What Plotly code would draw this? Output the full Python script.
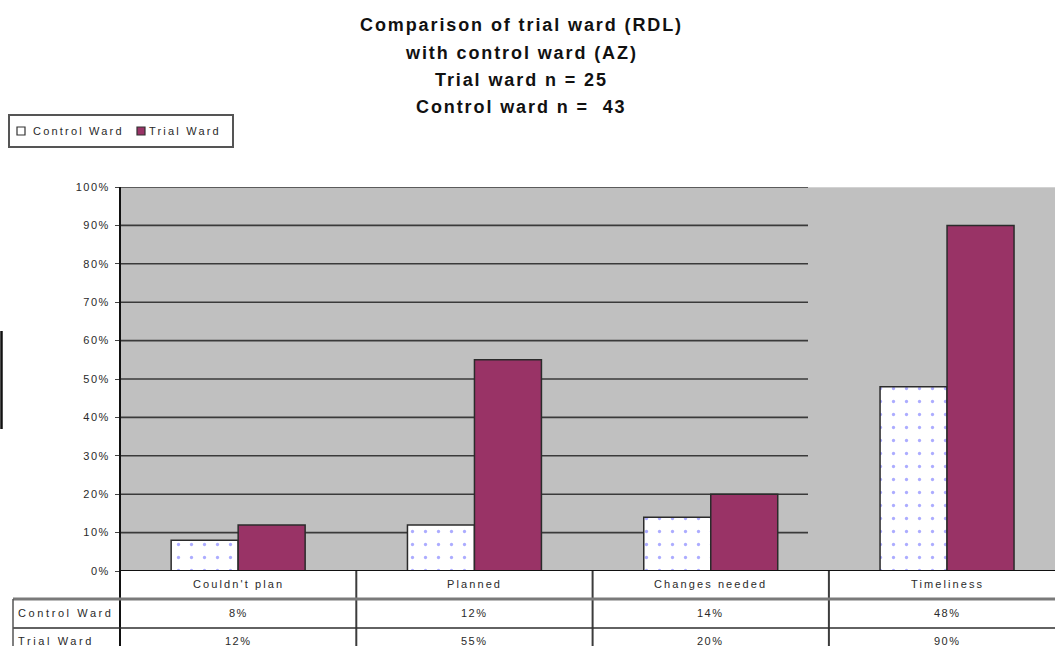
import plotly.graph_objects as go

# ---- data ----
categories = ["Couldn't plan", "Planned", "Changes needed", "Timeliness"]
control_ward = [8, 12, 14, 48]
trial_ward = [12, 55, 20, 90]
series_names = ["Control Ward", "Trial Ward"]
y_ticks = list(range(0, 101, 10))
title_lines = [
    "Comparison of trial ward (RDL)",
    "with control ward (AZ)",
    "Trial ward n = 25",
    "Control ward n =  43",
]

# ---- page geometry (pixels) ----
W, H = 1055, 646
L, T, B = 120, 187, 75
plot_w = W - L
plot_h = H - T - B
cat_px = 236.3                      # width of one category slot
x_lo = -0.5
x_hi = x_lo + plot_w / cat_px
grid_end = x_lo + (808 - L) / cat_px

TEXT = "#2a2a2a"
FONT = "Liberation Sans, Arial, sans-serif"


def px(x):
    return (x - L) / plot_w


def py(y):
    return (H - B - y) / plot_h


def spaced(s, sp):
    return f'<span style="letter-spacing:{sp}px">{s}</span>'


fig = go.Figure()
fig.add_trace(go.Bar(
    x=categories, y=control_ward, name=series_names[0],
    marker=dict(color="white", line=dict(color="#2b2b2b", width=1.5),
                pattern=dict(shape=".", fgcolor="#5a5aff", bgcolor="white",
                             size=13, solidity=0.05)),
    showlegend=False,
))
fig.add_trace(go.Bar(
    x=categories, y=trial_ward, name=series_names[1],
    marker=dict(color="#993366", line=dict(color="#2b2b2b", width=1.5)),
    showlegend=False,
))

shapes = []
# horizontal gridlines
for v in y_ticks[1:]:
    shapes.append(dict(type="line", xref="x", yref="y", x0=x_lo, x1=grid_end,
                       y0=v, y1=v, line=dict(color="#3a3a3a", width=1.6),
                       layer="below"))
# faint border beyond gridline area
shapes.append(dict(type="line", xref="x", yref="y", x0=grid_end, x1=x_hi,
                   y0=100, y1=100, line=dict(color="#d9d9d9", width=1.5),
                   layer="below"))
# category axis line (0%)
shapes.append(dict(type="line", xref="x", yref="y", x0=x_lo, x1=x_hi,
                   y0=0, y1=0, line=dict(color="#111", width=2)))
# value axis line, running down through the table
shapes.append(dict(type="line", xref="paper", yref="paper", x0=0, x1=0,
                   y0=py(187), y1=py(H), line=dict(color="#111", width=2)))

# ---- data table below the plot ----
for b in [0.5, 1.5, 2.5]:
    shapes.append(dict(type="line", xref="x", yref="paper", x0=b, x1=b,
                       y0=py(571), y1=py(H), line=dict(color="#3c3c3c", width=2)))
shapes.append(dict(type="line", xref="paper", yref="paper", x0=px(13), x1=px(W),
                   y0=py(599), y1=py(599), line=dict(color="#7a7a7a", width=3)))
shapes.append(dict(type="line", xref="paper", yref="paper", x0=px(13), x1=px(W),
                   y0=py(628), y1=py(628), line=dict(color="#2e2e2e", width=1.5)))
shapes.append(dict(type="line", xref="paper", yref="paper", x0=px(13), x1=px(13),
                   y0=py(599), y1=py(H), line=dict(color="#555", width=1.5)))

# stray frame edge at the far left
shapes.append(dict(type="line", xref="paper", yref="paper", x0=px(1.5), x1=px(1.5),
                   y0=py(331), y1=py(429), line=dict(color="#111", width=2.5)))

# ---- legend box ----
shapes.append(dict(type="rect", xref="paper", yref="paper", x0=px(9), x1=px(233),
                   y0=py(147), y1=py(115), line=dict(color="#555", width=2),
                   fillcolor="white"))
shapes.append(dict(type="rect", xref="paper", yref="paper", x0=px(17), x1=px(25),
                   y0=py(135), y1=py(127), line=dict(color="#333", width=1.2),
                   fillcolor="white"))
shapes.append(dict(type="rect", xref="paper", yref="paper", x0=px(137), x1=px(145),
                   y0=py(135), y1=py(127), line=dict(color="#333", width=1.2),
                   fillcolor="#993366"))

annotations = []
# title
for i, (line, yc) in enumerate(zip(title_lines, [25, 53, 80, 107])):
    annotations.append(dict(
        text=spaced(line.replace("  ", "&nbsp; "), 1.9), xref="paper", yref="paper",
        x=px(521), y=py(yc), xanchor="center", yanchor="middle", showarrow=False,
        font=dict(family=FONT, size=18, color="#111", weight="bold"),
    ))
# legend labels
annotations.append(dict(text=spaced(series_names[0], 2.2), xref="paper", yref="paper",
                        x=px(31), y=py(131), xanchor="left", yanchor="middle",
                        showarrow=False, font=dict(family=FONT, size=11, color=TEXT)))
annotations.append(dict(text=spaced(series_names[1], 2.2), xref="paper", yref="paper",
                        x=px(147), y=py(131), xanchor="left", yanchor="middle",
                        showarrow=False, font=dict(family=FONT, size=11, color=TEXT)))
# table cells
for i, c in enumerate(categories):
    annotations.append(dict(text=spaced(c, 2.1), xref="x", yref="paper", x=i, y=py(584),
                            xanchor="center", yanchor="middle", showarrow=False,
                            font=dict(family=FONT, size=11, color=TEXT)))
    annotations.append(dict(text=spaced(f"{control_ward[i]}%", 1.5), xref="x", yref="paper",
                            x=i, y=py(613), xanchor="center", yanchor="middle",
                            showarrow=False, font=dict(family=FONT, size=11, color=TEXT)))
    annotations.append(dict(text=spaced(f"{trial_ward[i]}%", 1.5), xref="x", yref="paper",
                            x=i, y=py(641), xanchor="center", yanchor="middle",
                            showarrow=False, font=dict(family=FONT, size=11, color=TEXT)))
for name, yc in zip(series_names, [613, 641]):
    annotations.append(dict(text=spaced(name, 2.6), xref="paper", yref="paper",
                            x=px(16), y=py(yc), xanchor="left", yanchor="middle",
                            showarrow=False, font=dict(family=FONT, size=11, color=TEXT)))

fig.update_layout(
    width=W, height=H,
    margin=dict(l=L, r=0, t=T, b=B, pad=0),
    paper_bgcolor="white",
    plot_bgcolor="#c0c0c0",
    barmode="group",
    bargap=0.433,
    bargroupgap=0,
    xaxis=dict(type="category", range=[x_lo, x_hi], showticklabels=False,
               showgrid=False, zeroline=False, showline=False, ticks=""),
    yaxis=dict(range=[0, 100], tickvals=y_ticks,
               ticktext=[spaced(f"{v}%", 1.5) for v in y_ticks],
               ticks="outside", ticklen=4, tickcolor="#444", tickwidth=1,
               ticklabelstandoff=3,
               showgrid=False, zeroline=False, showline=False,
               tickfont=dict(family=FONT, size=11, color=TEXT)),
    shapes=shapes,
    annotations=annotations,
)

fig.write_html("out.html")
